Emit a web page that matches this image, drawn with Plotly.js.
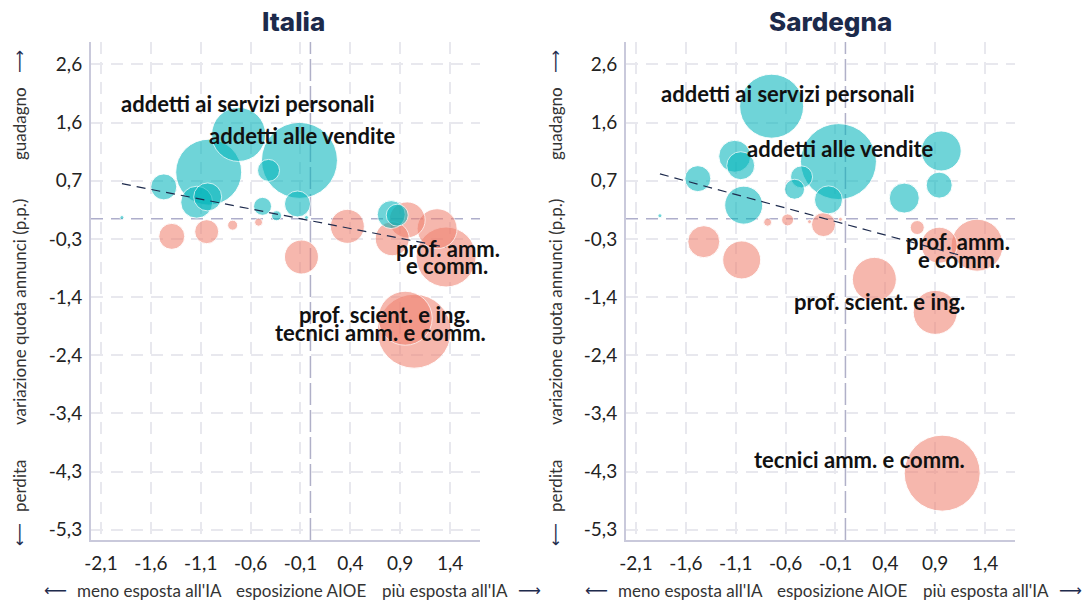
<!DOCTYPE html>
<html><head><meta charset="utf-8">
<script src="https://cdn.plot.ly/plotly-3.0.1.min.js"></script>
<style>html,body{margin:0;padding:0;background:#fff}</style>
</head><body><div id="chart" style="width:1082px;height:602px"></div>
<script>
// ---------- DATA ----------
// Italia: AIOE exposure (x), change in ad share p.p. (y), ad volume weight (w)
const itX = [-1.89, -1.47, -1.02, -1.14, -1.03, -0.72, -0.42, -0.48, -0.34, -0.11, -0.13, -0.04, 0.81, 0.87,
             -1.39, -1.04, -0.78, -0.52, 0.37, -0.09, 0.97, 0.82, 1.27, 1.36, 0.95, 1.04];
const itY = [0.02, 0.54, 0.79, 0.28, 0.37, 1.43, 0.82, 0.21, 0.05, 0.99, 0.25, 0.02, 0.07, 0.06,
             -0.30, -0.22, -0.11, -0.06, -0.13, -0.65, -0.02, -0.34, -0.17, -0.65, -1.69, -1.91];
const itW = [0.4, 16.9, 108.9, 25.6, 19.6, 72.9, 12.1, 8.1, 2.5, 144.4, 16.9, 0.4, 19.6, 12.1,
             16.9, 14.4, 2.5, 1.6, 28.9, 28.9, 32.4, 28.9, 40, 90, 72.9, 136.9];
const itLabel = ['', '', '', '', '', 'addetti ai servizi personali', '', '', '', 'addetti alle vendite', '', '', '', '',
             '', '', '', '', '', '', '', '', '', 'prof. amm.\ne comm.', 'prof. scient. e ing.', 'tecnici amm. e comm.'];

// Sardegna
const sdX = [-1.86, -1.48, -1.11, -1.05, -1.02, -0.74, -0.44, -0.51, -0.07, -0.17, 0.59, 0.96, 0.94,
             -0.78, -0.58, -0.36, -0.22, -0.05, -1.42, -1.04, 0.29, 0.72, 0.94, 1.32, 0.90, 0.97];
const sdY = [0.05, 0.68, 1.06, 0.90, 0.23, 1.91, 0.71, 0.50, 0.97, 0.32, 0.35, 1.15, 0.57,
             -0.06, -0.02, -0.05, -0.10, -0.01, -0.39, -0.70, -1.03, -0.15, -0.45, -0.45, -1.59, -4.32];
const sdW = [0.4, 16.9, 25.6, 19.6, 36.1, 102.4, 12.1, 10, 144.4, 19.6, 22.5, 40, 16.9,
             1.6, 3.6, 0.4, 14.4, 0.2, 25.6, 36.1, 48.4, 4.9, 32.4, 67.6, 48.4, 144.4];
const sdLabel = ['', '', '', '', '', 'addetti ai servizi personali', '', '', 'addetti alle vendite', '', '', '', '',
             '', '', '', '', '', '', '', '', '', '', 'prof. amm.\ne comm.', 'prof. scient. e ing.', 'tecnici amm. e comm.'];

// trend lines (linear fit)
const itTrendX = [-1.89, 1.36];
const itTrendY = [0.594, -0.485];
const sdTrendX = [-1.86, 1.32];
const sdTrendY = [0.76, -0.70];

// ticks
const xTickVals = [-2.1, -1.6, -1.1, -0.6, -0.1, 0.4, 0.9, 1.4];
const xTickText = ['-2,1', '-1,6', '-1,1', '-0,6', '-0,1', '0,4', '0,9', '1,4'];
const yTickVals = [2.62, 1.6325, 0.645, -0.3425, -1.33, -2.3175, -3.305, -4.2925, -5.28];
const yTickText = ['2,6', '1,6', '0,7', '-0,3', '-1,4', '-2,4', '-3,4', '-4,3', '-5,3'];

const panelTitles = ['Italia', 'Sardegna'];
const xTitleParts = ['⟵', 'meno esposta all\'IA', 'esposizione AIOE', 'più esposta all\'IA', '⟶'];
const yTitleParts = ['⟵', 'perdita', 'variazione quota annunci (p.p.)', 'guadagno', '⟶'];

// ---------- STYLE / LAYOUT ----------
const TEAL = 'rgba(0,180,186,0.8)';
const SALMON = 'rgba(240,128,110,0.8)';
const FONT = 'Lato, "Noto Sans", sans-serif';
const W = 1082, H = 602, ML = 91, MR = 67, MT = 42, MB = 62;
const PW = W - ML - MR, PH = H - MT - MB;
const px2x = p => (p - ML) / PW;
const py2y = p => (H - MB - p) / PH;

const labelShift = {
  it: {'addetti ai servizi personali': [9, 31], 'addetti alle vendite': [3, 25],
       'prof. amm.': [2, 8], 'e comm.': [1, -9],
       'prof. scient. e ing.': [-21, 4], 'tecnici amm. e comm.': [-34, -1]},
  sd: {'addetti ai servizi personali': [16, 13], 'addetti alle vendite': [2, 13],
       'prof. amm.': [-19, 4], 'e comm.': [-18, -14],
       'prof. scient. e ing.': [-56, 11], 'tecnici amm. e comm.': [-83, 14]}
};

function bubbleTraces(X, Y, Wt, xa, ya) {
  const idx = X.map((_, i) => i).sort((a, b) => Wt[b] - Wt[a]);
  const mk = (pos) => {
    const ii = idx.filter(i => pos ? Y[i] >= 0 : Y[i] < 0);
    return {
      type: 'scatter', mode: 'markers', xaxis: xa, yaxis: ya,
      x: ii.map(i => X[i]), y: ii.map(i => Y[i]),
      marker: {size: ii.map(i => Wt[i]), sizemode: 'area', sizeref: 0.05, sizemin: 2,
               color: pos ? TEAL : SALMON, line: {color: 'rgba(255,255,255,0.95)', width: 1}},
      hoverinfo: 'x+y', showlegend: false
    };
  };
  return [mk(false), mk(true)];
}
function trendTrace(X, Y, xa, ya) {
  return {type: 'scatter', mode: 'lines', x: X, y: Y, xaxis: xa, yaxis: ya,
          line: {color: '#1e2b4d', width: 1.2, dash: '9px,6px'}, hoverinfo: 'skip', showlegend: false};
}
function labelAnns(X, Y, L, xr, yr, key) {
  const out = [];
  L.forEach((lab, i) => {
    if (!lab) return;
    lab.split('\n').forEach(part => {
      const s = labelShift[key][part] || [0, 0];
      out.push({xref: xr, yref: yr, x: X[i], y: Y[i], text: part, showarrow: false,
                xshift: s[0], yshift: s[1], xanchor: 'center', yanchor: 'middle',
                font: {family: FONT, size: 22, color: '#111', weight: 700}});
    });
  });
  return out;
}

const data = [
  ...bubbleTraces(itX, itY, itW, 'x', 'y'), trendTrace(itTrendX, itTrendY, 'x', 'y'),
  ...bubbleTraces(sdX, sdY, sdW, 'x2', 'y2'), trendTrace(sdTrendX, sdTrendY, 'x2', 'y2')
];

const axBase = {
  showgrid: true, gridcolor: '#e8e8ee', gridwidth: 1.5, griddash: '12px,8px',
  zeroline: false, showline: true, linecolor: '#c9c9db', linewidth: 2,
  ticks: 'outside', tickcolor: 'rgba(0,0,0,0)', fixedrange: true,
  tickfont: {family: FONT, size: 19, color: '#222'}
};
const xa = (dom, anchor) => Object.assign({}, axBase, {domain: dom, anchor: anchor, range: [-2.2, 1.7],
  tickmode: 'array', tickvals: xTickVals, ticktext: xTickText, ticklen: 5});
const ya = (anchor) => Object.assign({}, axBase, {domain: [0, 1], anchor: anchor, range: [-5.455, 3.0],
  tickmode: 'array', tickvals: yTickVals, ticktext: yTickText, ticklen: 3});

const leftDom = [0, px2x(480)], rightDom = [px2x(626), 1];

const shapes = [];
[['x', 'y'], ['x2', 'y2']].forEach(([xr, yr]) => {
  shapes.push({type: 'line', layer: 'below', xref: xr + ' domain', x0: 0, x1: 1, yref: yr, y0: 0, y1: 0,
               line: {color: '#aeaecb', width: 1.5, dash: '12px,8px'}});
  shapes.push({type: 'line', layer: 'below', xref: xr, x0: 0, x1: 0, yref: yr + ' domain', y0: 0, y1: 1,
               line: {color: '#b0b0c8', width: 1.5, dash: '22px,5px'}});
});

const anns = [];
// panel titles
[[293, panelTitles[0]], [830, panelTitles[1]]].forEach(([cx, t]) => {
  anns.push({xref: 'paper', yref: 'paper', x: px2x(cx), y: py2y(22), text: t, showarrow: false,
             xanchor: 'center', yanchor: 'middle',
             font: {family: 'Inter, sans-serif', size: 26, color: '#1c2a4b', weight: 800}});
});
// x axis titles
const xPartCenters = [55, 149, 301, 445, 529];
[0, 541].forEach(off => {
  xTitleParts.forEach((t, k) => {
    const arrow = (k === 0 || k === 4);
    anns.push({xref: 'paper', yref: 'paper', x: px2x(xPartCenters[k] + off), y: py2y(590), text: t,
               showarrow: false, xanchor: 'center', yanchor: 'middle',
               font: {family: arrow ? 'DejaVu Sans' : FONT, size: arrow ? 16 : 17, color: arrow ? '#1e2b4d' : '#333'}});
  });
});
// y axis titles
const yPartCenters = [535, 486, 312, 124, 62];
[19, 555].forEach(cx => {
  yTitleParts.forEach((t, k) => {
    const arrow = (k === 0 || k === 4);
    anns.push({xref: 'paper', yref: 'paper', x: px2x(cx), y: py2y(yPartCenters[k]), text: t, textangle: -90,
               showarrow: false, xanchor: 'center', yanchor: 'middle',
               font: {family: arrow ? 'DejaVu Sans' : FONT, size: arrow ? 16 : 17, color: arrow ? '#1e2b4d' : '#333'}});
  });
});
anns.push(...labelAnns(itX, itY, itLabel, 'x', 'y', 'it'));
anns.push(...labelAnns(sdX, sdY, sdLabel, 'x2', 'y2', 'sd'));

const layout = {
  width: W, height: H, margin: {l: ML, r: MR, t: MT, b: MB, pad: 0},
  paper_bgcolor: '#fff', plot_bgcolor: '#fff', showlegend: false,
  xaxis: xa(leftDom, 'y'), yaxis: ya('x'),
  xaxis2: xa(rightDom, 'y2'), yaxis2: ya('x2'),
  shapes: shapes, annotations: anns, hovermode: 'closest'
};
Plotly.newPlot('chart', data, layout, {displayModeBar: false, responsive: false});
</script>
</body></html>
